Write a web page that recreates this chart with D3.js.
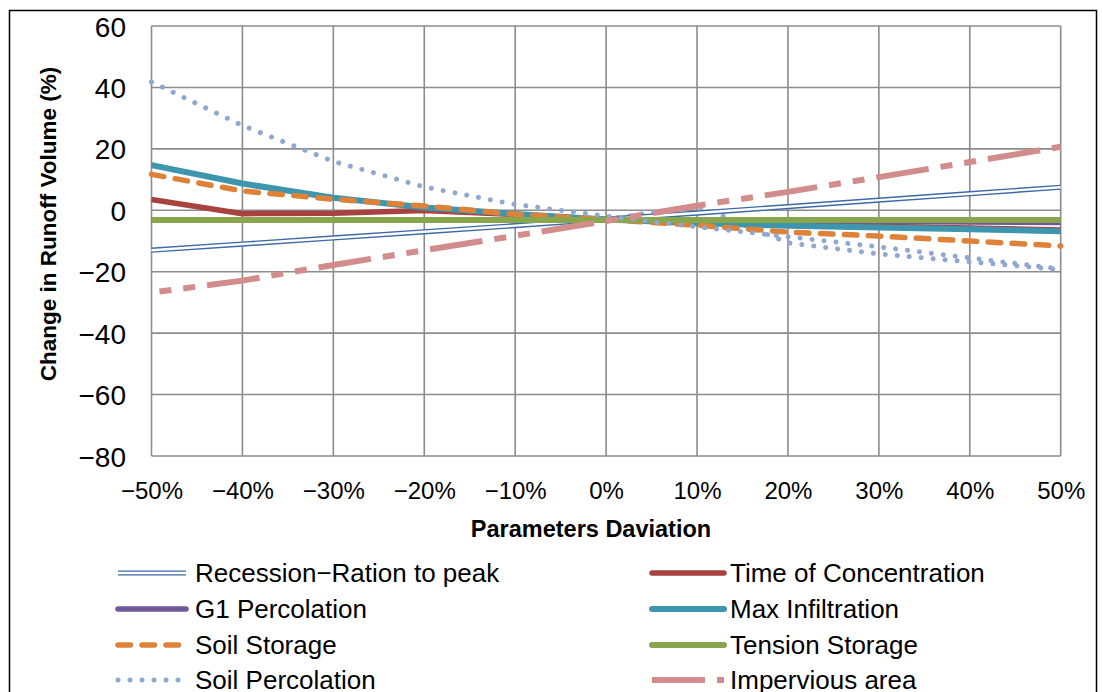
<!DOCTYPE html>
<html>
<head>
<meta charset="utf-8">
<script src="https://cdn.jsdelivr.net/npm/d3@7"></script>
<style>
  html, body { margin: 0; padding: 0; background: #fff; }
  svg { display: block; font-family: "Liberation Sans", Arial, sans-serif; }
</style>
</head>
<body>
<svg id="chart" width="1102" height="692"></svg>
<script>
// Parameter deviation (%) on the horizontal axis
const deviations = [-50, -40, -30, -20, -10, 0, 10, 20, 30, 40, 50];
const yTicks = [60, 40, 20, 0, -20, -40, -60, -80];

// Change in runoff volume (%) for each parameter
const recessionRatio   = [-13.0, -11.0, -9.0, -7.0, -5.0, -2.9, -0.9, 1.2, 3.3, 5.4, 7.5];
const timeConcentration = [3.5, -1.1, -1.0, -0.1, -1.4, -3.0, -3.8, -4.5, -5.2, -5.8, -6.4];
const g1Percolation    = [-3.2, -3.2, -3.2, -3.2, -3.2, -3.2, -3.3, -3.4, -3.6, -3.8, -4.0];
const maxInfiltration  = [14.7, 8.7, 4.1, 0.9, -1.2, -3.0, -4.2, -5.0, -5.6, -6.2, -6.8];
const soilStorage      = [11.7, 6.3, 3.6, 1.4, -1.3, -3.0, -4.9, -7.1, -8.4, -10.0, -11.6];
const tensionStorage   = [-3.2, -3.2, -3.2, -3.2, -3.2, -3.2, -3.2, -3.2, -3.2, -3.2, -3.2];
const soilPercolation  = [41.8, 27.6, 15.9, 7.6, 1.9, -1.9, -5.4, -8.6, -11.9, -15.5, -19.1];
const soilPercolation2 = [null, null, null, null, null, -3.0, 1.5, -10.6, -14.2, -16.8, -19.3];
const imperviousArea   = [-26.8, -22.9, -17.8, -13.0, -8.3, -3.5, 1.5, 6.0, 10.8, 15.7, 20.7];

const series = [
  { name: "Recession\u2212Ration to peak", values: recessionRatio, color: "#3D69A6", width: 5.2, style: "double" },
  { name: "Time of Concentration", values: timeConcentration, color: "#A8423F", width: 5.5, style: "solid" },
  { name: "G1 Percolation", values: g1Percolation, color: "#71589A", width: 5.5, style: "solid" },
  { name: "Max Infiltration", values: maxInfiltration, color: "#3E96AE", width: 6, style: "solid" },
  { name: "Soil Storage", values: soilStorage, color: "#DF8239", width: 5.5, style: "dash" },
  { name: "Tension Storage", values: tensionStorage, color: "#8AA64C", width: 6, style: "solid" },
  { name: "Soil Percolation", values: soilPercolation, color: "#8FA8D2", width: 5, style: "dot" },
  { name: "Impervious area", values: imperviousArea, color: "#D28C8B", width: 6, style: "longdash" }
];
// second dotted trace, drawn underneath the others, no legend row
const extraSeries = { name: "", values: soilPercolation2, color: "#8FA8D2", width: 5, style: "dot" };

const dashStyles = {
  solid:    { dash: null, cap: "butt", offset: 0 },
  double:   { dash: null, cap: "butt", offset: 0 },
  dash:     { dash: "12.5,11.5", cap: "round", offset: 0 },
  dot:      { dash: "0.01,12", cap: "round", offset: 0 },
  longdash: { dash: "53,12,12,12,12,12", cap: "butt", offset: 57 }
};

const svg = d3.select("#chart");

// outer chart frame
svg.append("rect")
  .attr("x", 9.5).attr("y", 10.5)
  .attr("width", 1087).attr("height", 720)
  .attr("fill", "none").attr("stroke", "#000").attr("stroke-width", 1.5);

const plot = { left: 151.5, right: 1060.7, top: 26, bottom: 456 };

const x = d3.scaleLinear().domain([-50, 50]).range([plot.left, plot.right]);
const y = d3.scaleLinear().domain([-80, 60]).range([plot.bottom, plot.top]);

// gridlines
const grid = svg.append("g").attr("stroke", "#8C8C8C").attr("stroke-width", 1.6);
grid.selectAll("line.h").data(yTicks).join("line")
  .attr("x1", plot.left).attr("x2", plot.right)
  .attr("y1", d => y(d)).attr("y2", d => y(d));
grid.selectAll("line.v").data(deviations).join("line")
  .attr("y1", plot.top).attr("y2", plot.bottom)
  .attr("x1", d => x(d)).attr("x2", d => x(d));

// axes (labels only, lines come from the grid)
const fmtMinus = s => s.replace("-", "\u2212");
const yAxis = d3.axisLeft(y).tickValues(yTicks).tickSize(0).tickPadding(0)
  .tickFormat(d => fmtMinus(String(d)));
svg.append("g")
  .attr("transform", `translate(${126},0)`)
  .call(yAxis)
  .call(g => g.select(".domain").remove())
  .selectAll("text")
  .attr("font-size", 28).attr("fill", "#000")
  .attr("font-family", "Liberation Sans, Arial, sans-serif")
  .attr("dy", "0.36em");

const xAxis = d3.axisBottom(x).tickValues(deviations).tickSize(0).tickPadding(0)
  .tickFormat(d => fmtMinus(d + "%"));
svg.append("g")
  .attr("transform", `translate(0,${490})`)
  .call(xAxis)
  .call(g => g.select(".domain").remove())
  .selectAll("text")
  .attr("font-size", 24).attr("fill", "#000")
  .attr("font-family", "Liberation Sans, Arial, sans-serif")
  .attr("dy", "0.36em");

// axis titles
svg.append("text")
  .attr("x", 591).attr("y", 529).attr("dy", "0.36em")
  .attr("text-anchor", "middle")
  .attr("font-size", 23.5).attr("font-weight", "bold")
  .text("Parameters Daviation");

svg.append("text")
  .attr("transform", "translate(48,224) rotate(-90)")
  .attr("dy", "0.36em")
  .attr("text-anchor", "middle")
  .attr("font-size", 22.5).attr("font-weight", "bold")
  .text("Change in Runoff Volume (%)");

// series lines
const line = d3.line()
  .defined(d => d.v != null)
  .x(d => x(d.x))
  .y(d => y(d.v));

const linesG = svg.append("g").attr("fill", "none");

function drawPath(g, d, s) {
  const st = dashStyles[s.style];
  const p = g.append("path")
    .attr("d", d)
    .attr("stroke", s.color)
    .attr("stroke-width", s.width)
    .attr("stroke-linecap", st.cap)
    .attr("stroke-linejoin", "round")
    .attr("fill", "none");
  if (st.dash) p.attr("stroke-dasharray", st.dash).attr("stroke-dashoffset", st.offset);
  if (s.style === "double") {
    g.append("path")
      .attr("d", d)
      .attr("stroke", "#fff")
      .attr("stroke-width", 2.4)
      .attr("fill", "none");
  }
}

function pointsOf(s) {
  return deviations.map((dx, i) => ({ x: dx, v: s.values[i] }));
}

drawPath(linesG, line(pointsOf(extraSeries)), extraSeries);
series.forEach(s => drawPath(linesG, line(pointsOf(s)), s));

// legend, two columns
const legend = svg.append("g");
const rowsY = [573, 609, 645, 680];
const cols = [{ x1: 118, x2: 186, tx: 195 }, { x1: 652, x2: 724, tx: 730 }];
series.forEach((s, i) => {
  const col = cols[i % 2];
  const ry = rowsY[Math.floor(i / 2)];
  const lg = legend.append("g");
  drawPath(lg, `M${col.x1},${ry}L${col.x2},${ry}`, s);
  if (s.style === "longdash") {
    lg.select("path").attr("stroke-dashoffset", 0);
  }
  if (s.style === "solid") {
    lg.select("path").attr("stroke-linecap", "round");
  }
  lg.append("text")
    .attr("x", col.tx).attr("y", ry).attr("dy", "0.36em")
    .attr("font-size", 26).attr("fill", "#000")
    .text(s.name);
});
</script>
</body>
</html>
